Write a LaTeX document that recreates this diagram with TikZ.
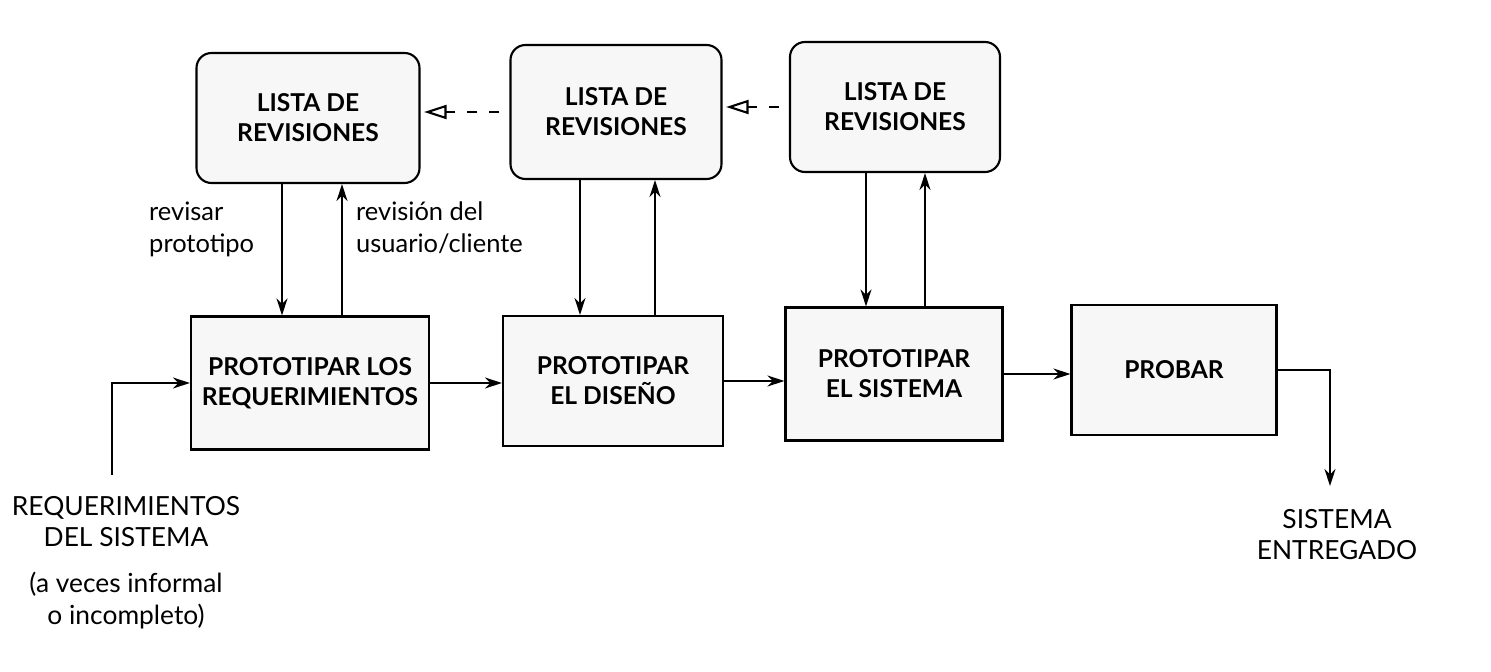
\documentclass[tikz,border=0pt]{standalone}
\usepackage{fontspec}
\setmainfont{Lato}
\usetikzlibrary{arrows.meta}
\begin{document}
\begin{tikzpicture}[x=0.02cm,y=-0.02cm,
  every node/.style={font=\fontsize{14}{17}\selectfont},
  revbox/.style={draw, line width=1.2pt, rounded corners=0.3cm, fill=black!3, align=center, inner sep=0pt, font=\fontsize{14}{17}\selectfont\bfseries},
  procbox/.style={draw, line width=1.2pt, fill=black!3, align=center, inner sep=0pt, font=\fontsize{14}{17}\selectfont\bfseries},
  arr/.style={line width=1.1pt, -{Stealth[length=0.34cm,width=0.22cm]}},
  darr/.style={line width=1.1pt, dash pattern=on 0.2cm off 0.24cm, dash phase=0.24cm, -{Triangle[open,length=0.45cm,width=0.28cm,line width=1.2pt]}},
  lbl/.style={align=left, font=\fontsize{14.5}{18}\selectfont},
  io/.style={align=center, font=\fontsize{15}{18}\selectfont}]
\useasboundingbox (0,0) rectangle (1491,672);
% top boxes
\node[revbox, minimum width=223*0.02cm, minimum height=130*0.02cm] (T1) at (308,118) {LISTA DE\\REVISIONES};
\node[revbox, minimum width=211*0.02cm, minimum height=134*0.02cm] (T2) at (616,112) {LISTA DE\\REVISIONES};
\node[revbox, minimum width=210*0.02cm, minimum height=130*0.02cm] (T3) at (895,107) {LISTA DE\\REVISIONES};
% process boxes
\node[procbox, minimum width=238*0.02cm, minimum height=133*0.02cm] (B1) at (310,383) {PROTOTIPAR LOS\\REQUERIMIENTOS};
\node[procbox, minimum width=220*0.02cm, minimum height=130*0.02cm] (B2) at (613,381) {PROTOTIPAR\\EL DISEÑO};
\node[procbox, minimum width=217*0.02cm, minimum height=133*0.02cm] (B3) at (894,374) {PROTOTIPAR\\EL SISTEMA};
\node[procbox, minimum width=205*0.02cm, minimum height=130*0.02cm] (B4) at (1174,370) {PROBAR};
% column coordinates
\coordinate (c1) at (282,0);
\coordinate (c2) at (342,0);
\coordinate (c3) at (580,0);
\coordinate (c4) at (655,0);
\coordinate (c5) at (866,0);
\coordinate (c6) at (925,0);
% vertical arrows
\draw[arr] (T1.south -| c1) -- (B1.north -| c1);
\draw[arr] (B1.north -| c2) -- (T1.south -| c2);
\draw[arr] (T2.south -| c3) -- (B2.north -| c3);
\draw[arr] (B2.north -| c4) -- (T2.south -| c4);
\draw[arr] (T3.south -| c5) -- (B3.north -| c5);
\draw[arr] (B3.north -| c6) -- (T3.south -| c6);
% dashed arrows
\draw[darr] (T2.west) -- ([xshift=2pt]T2.west -| T1.east);
\draw[darr] (T3.west) -- ([xshift=2pt]T3.west -| T2.east);
% horizontal arrows
\draw[arr] (B1.east) -- (B1.east -| B2.west);
\draw[arr] (B2.east) -- (B2.east -| B3.west);
\draw[arr] (B3.east) -- (B3.east -| B4.west);
% input
\coordinate (in) at (112,475);
\draw[arr] (in) |- (B1.west);
% output
\coordinate (out) at (1330,486);
\draw[arr] (B4.east) -| (out);
% labels
\node[lbl, anchor=north west] (l1) at (143,196) {revisar\\prototipo};
\node[lbl, anchor=north west] (l2) at (350,196) {revisión del\\usuario/cliente};
\node[io, anchor=north] (in1) at (126,490) {REQUERIMIENTOS\\DEL SISTEMA};
\node[io, anchor=north] (in2) at (126,566) {(a veces informal\\o incompleto)};
\node[io, anchor=north] (o1) at (1337,503) {SISTEMA\\ENTREGADO};
\end{tikzpicture}
\end{document}
